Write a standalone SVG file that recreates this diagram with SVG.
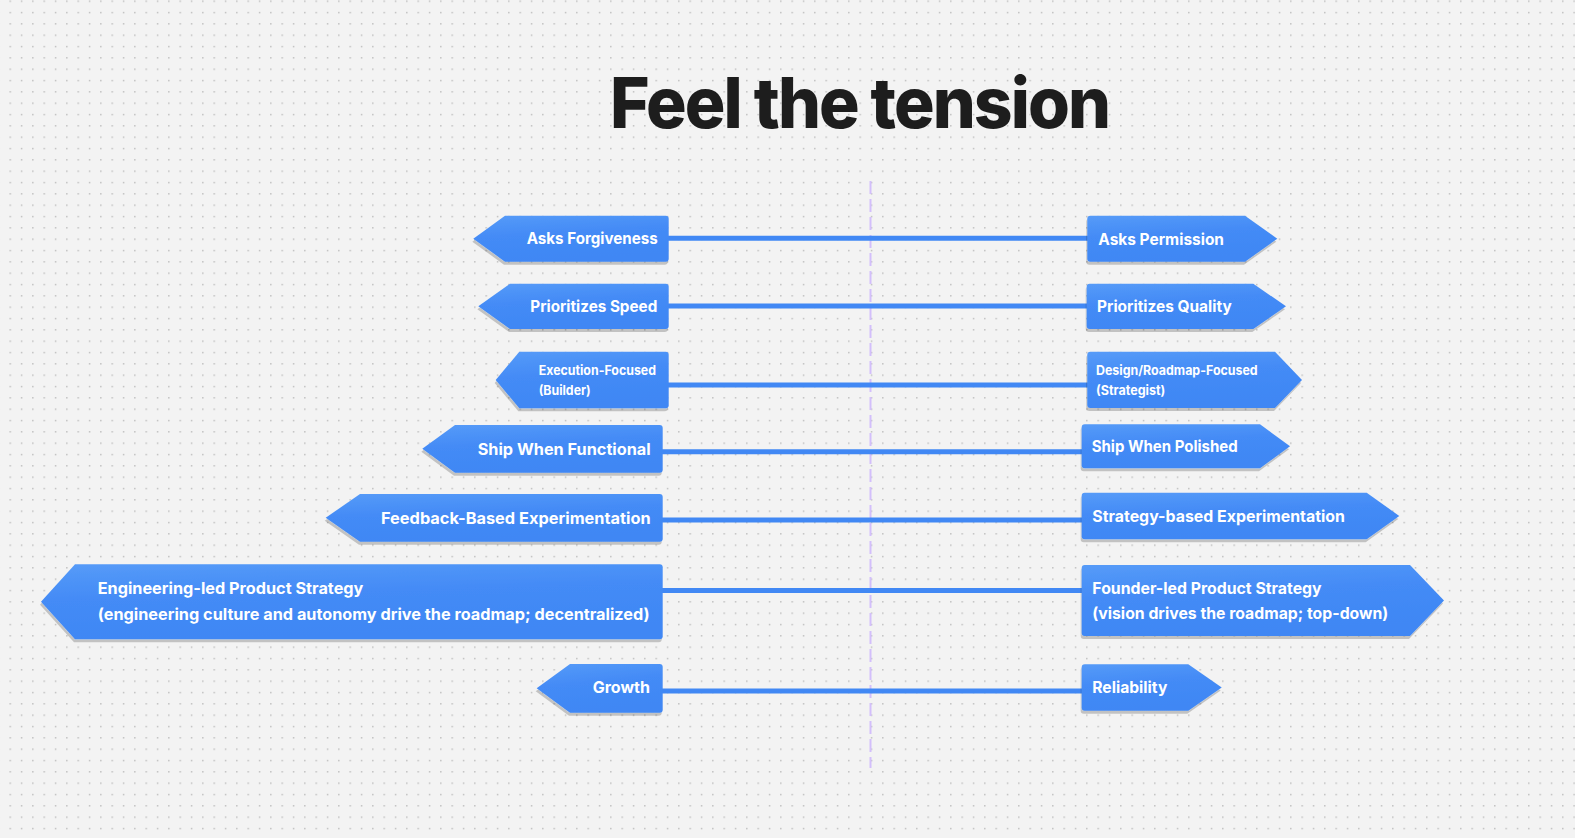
<svg xmlns="http://www.w3.org/2000/svg" width="1575" height="838" viewBox="0 0 1575 838">
<defs>
<pattern id="dots" patternUnits="userSpaceOnUse" x="9.5" y="0.5" width="11.333" height="11.333">
<rect x="0" y="0" width="1.4" height="1.4" fill="#b8b8b8"/>
</pattern>
<linearGradient id="blue" x1="0" y1="0" x2="0.25" y2="1">
<stop offset="0" stop-color="#569bf8"/>
<stop offset="0.45" stop-color="#448bf6"/>
<stop offset="1" stop-color="#3f87f4"/>
</linearGradient>
<filter id="sh" x="-5%" y="-20%" width="110%" height="150%">
<feDropShadow dx="-1" dy="3" stdDeviation="0.6" flood-color="#000" flood-opacity="0.2"/>
</filter>
</defs>
<style>
.node{fill:url(#blue);filter:url(#sh)}
.t{font-family:Inter,"Noto Sans","Liberation Sans",sans-serif;font-weight:650;fill:#fff;font-size:16px}
.s{font-size:13px}
.conn line{stroke:#4188f4;stroke-width:5}
.title{font-family:Inter,"Liberation Sans",sans-serif;font-weight:800;font-size:70px;fill:#1d1d1d;letter-spacing:-2px}
</style>
<rect width="1575" height="838" fill="#f3f3f3"/>
<rect width="1575" height="838" fill="url(#dots)"/>
<line x1="870.5" y1="181" x2="870.5" y2="768" stroke="#d3bffb" stroke-width="2" stroke-dasharray="13 5"/>
<text class="title" x="859.5" y="127.5" text-anchor="middle" textLength="499" lengthAdjust="spacingAndGlyphs">Feel the tension</text>
<g id="connectors" class="conn">
<line x1="666" y1="238.3" x2="1090" y2="238.3"/>
<line x1="666" y1="306" x2="1090" y2="306"/>
<line x1="666" y1="385" x2="1090" y2="385"/>
<line x1="660" y1="451.7" x2="1084" y2="451.7"/>
<line x1="660" y1="520" x2="1084" y2="520"/>
<line x1="660" y1="590.5" x2="1084" y2="590.5"/>
<line x1="660" y1="691" x2="1084" y2="691"/>
</g>
<g id="n-asks-forgiveness">
<path class="node" d="M473.3,238.7 L505,215.7 L665.7,215.7 Q668.7,215.7 668.7,218.7 L668.7,258.7 Q668.7,261.7 665.7,261.7 L505,261.7 Z"/>
<text class="t" x="657.7" y="244" text-anchor="end" textLength="131" lengthAdjust="spacingAndGlyphs">Asks Forgiveness</text>
</g>
<g id="n-asks-permission">
<path class="node" d="M1090.3,215.7 L1245,215.7 L1277.3,238.7 L1245,261.7 L1090.3,261.7 Q1087.3,261.7 1087.3,258.7 L1087.3,218.7 Q1087.3,215.7 1090.3,215.7 Z"/>
<text class="t" x="1098.3" y="244.5" textLength="125.7" lengthAdjust="spacingAndGlyphs">Asks Permission</text>
</g>
<g id="n-prioritizes-speed">
<path class="node" d="M478.3,306.3 L510,283.7 L665.7,283.7 Q668.7,283.7 668.7,286.7 L668.7,326 Q668.7,329 665.7,329 L510,329 Z"/>
<text class="t" x="657.3" y="311.7" text-anchor="end" textLength="127" lengthAdjust="spacingAndGlyphs">Prioritizes Speed</text>
</g>
<g id="n-prioritizes-quality">
<path class="node" d="M1089.7,283.7 L1253.3,283.7 L1286,306.3 L1253.3,329 L1089.7,329 Q1086.7,329 1086.7,326 L1086.7,286.7 Q1086.7,283.7 1089.7,283.7 Z"/>
<text class="t" x="1097" y="312" textLength="134.7" lengthAdjust="spacingAndGlyphs">Prioritizes Quality</text>
</g>
<g id="n-execution-focused">
<path class="node" d="M495.7,380 L519.3,351.7 L665.7,351.7 Q668.7,351.7 668.7,354.7 L668.7,405.3 Q668.7,408.3 665.7,408.3 L519.3,408.3 Z"/>
<text class="t s" x="538.7" y="375" textLength="117.3" lengthAdjust="spacingAndGlyphs">Execution-Focused</text>
<text class="t s" x="538.7" y="394.5" textLength="52" lengthAdjust="spacingAndGlyphs">(Builder)</text>
</g>
<g id="n-design-roadmap-focused">
<path class="node" d="M1090.3,351.7 L1275,351.7 L1302,380 L1275,408 L1090.3,408 Q1087.3,408 1087.3,405 L1087.3,354.7 Q1087.3,351.7 1090.3,351.7 Z"/>
<text class="t s" x="1096" y="375" textLength="161.7" lengthAdjust="spacingAndGlyphs">Design/Roadmap-Focused</text>
<text class="t s" x="1096" y="394.5" textLength="69.3" lengthAdjust="spacingAndGlyphs">(Strategist)</text>
</g>
<g id="n-ship-when-functional">
<path class="node" d="M422.3,448.8 L455,425 L659.7,425 Q662.7,425 662.7,428 L662.7,469.7 Q662.7,472.7 659.7,472.7 L455,472.7 Z"/>
<text class="t" x="650.7" y="455" text-anchor="end" textLength="173" lengthAdjust="spacingAndGlyphs">Ship When Functional</text>
</g>
<g id="n-ship-when-polished">
<path class="node" d="M1084.7,424.3 L1260,424.3 L1290,446.3 L1260,468.3 L1084.7,468.3 Q1081.7,468.3 1081.7,465.3 L1081.7,427.3 Q1081.7,424.3 1084.7,424.3 Z"/>
<text class="t" x="1091.7" y="451.7" textLength="146" lengthAdjust="spacingAndGlyphs">Ship When Polished</text>
</g>
<g id="n-feedback-based">
<path class="node" d="M325.7,517.8 L360,494 L659.7,494 Q662.7,494 662.7,497 L662.7,538.7 Q662.7,541.7 659.7,541.7 L360,541.7 Z"/>
<text class="t" x="650.7" y="524" text-anchor="end" textLength="269.7" lengthAdjust="spacingAndGlyphs">Feedback-Based Experimentation</text>
</g>
<g id="n-strategy-based">
<path class="node" d="M1084.7,492.7 L1366.7,492.7 L1399.3,516 L1366.7,539.3 L1084.7,539.3 Q1081.7,539.3 1081.7,536.3 L1081.7,495.7 Q1081.7,492.7 1084.7,492.7 Z"/>
<text class="t" x="1092.3" y="521.7" textLength="252.7" lengthAdjust="spacingAndGlyphs">Strategy-based Experimentation</text>
</g>
<g id="n-engineering-led">
<path class="node" d="M41,601.8 L75,564.3 L659.7,564.3 Q662.7,564.3 662.7,567.3 L662.7,636.3 Q662.7,639.3 659.7,639.3 L75,639.3 Z"/>
<text class="t" x="97.7" y="594.3" textLength="265.7" lengthAdjust="spacingAndGlyphs">Engineering-led Product Strategy</text>
<text class="t" x="97.7" y="620" textLength="552" lengthAdjust="spacingAndGlyphs">(engineering culture and autonomy drive the roadmap; decentralized)</text>
</g>
<g id="n-founder-led">
<path class="node" d="M1084.7,565 L1410,565 L1444,600.5 L1410,636 L1084.7,636 Q1081.7,636 1081.7,633 L1081.7,568 Q1081.7,565 1084.7,565 Z"/>
<text class="t" x="1092.3" y="594" textLength="229.3" lengthAdjust="spacingAndGlyphs">Founder-led Product Strategy</text>
<text class="t" x="1092.3" y="619" textLength="296" lengthAdjust="spacingAndGlyphs">(vision drives the roadmap; top-down)</text>
</g>
<g id="n-growth">
<path class="node" d="M536.7,688.3 L570,664 L659.7,664 Q662.7,664 662.7,667 L662.7,709.7 Q662.7,712.7 659.7,712.7 L570,712.7 Z"/>
<text class="t" x="650" y="693.3" text-anchor="end" textLength="57.3" lengthAdjust="spacingAndGlyphs">Growth</text>
</g>
<g id="n-reliability">
<path class="node" d="M1084.7,664.3 L1188.3,664.3 L1221.7,687.5 L1188.3,710.7 L1084.7,710.7 Q1081.7,710.7 1081.7,707.7 L1081.7,667.3 Q1081.7,664.3 1084.7,664.3 Z"/>
<text class="t" x="1092.3" y="693.3" textLength="75" lengthAdjust="spacingAndGlyphs">Reliability</text>
</g>
</svg>
